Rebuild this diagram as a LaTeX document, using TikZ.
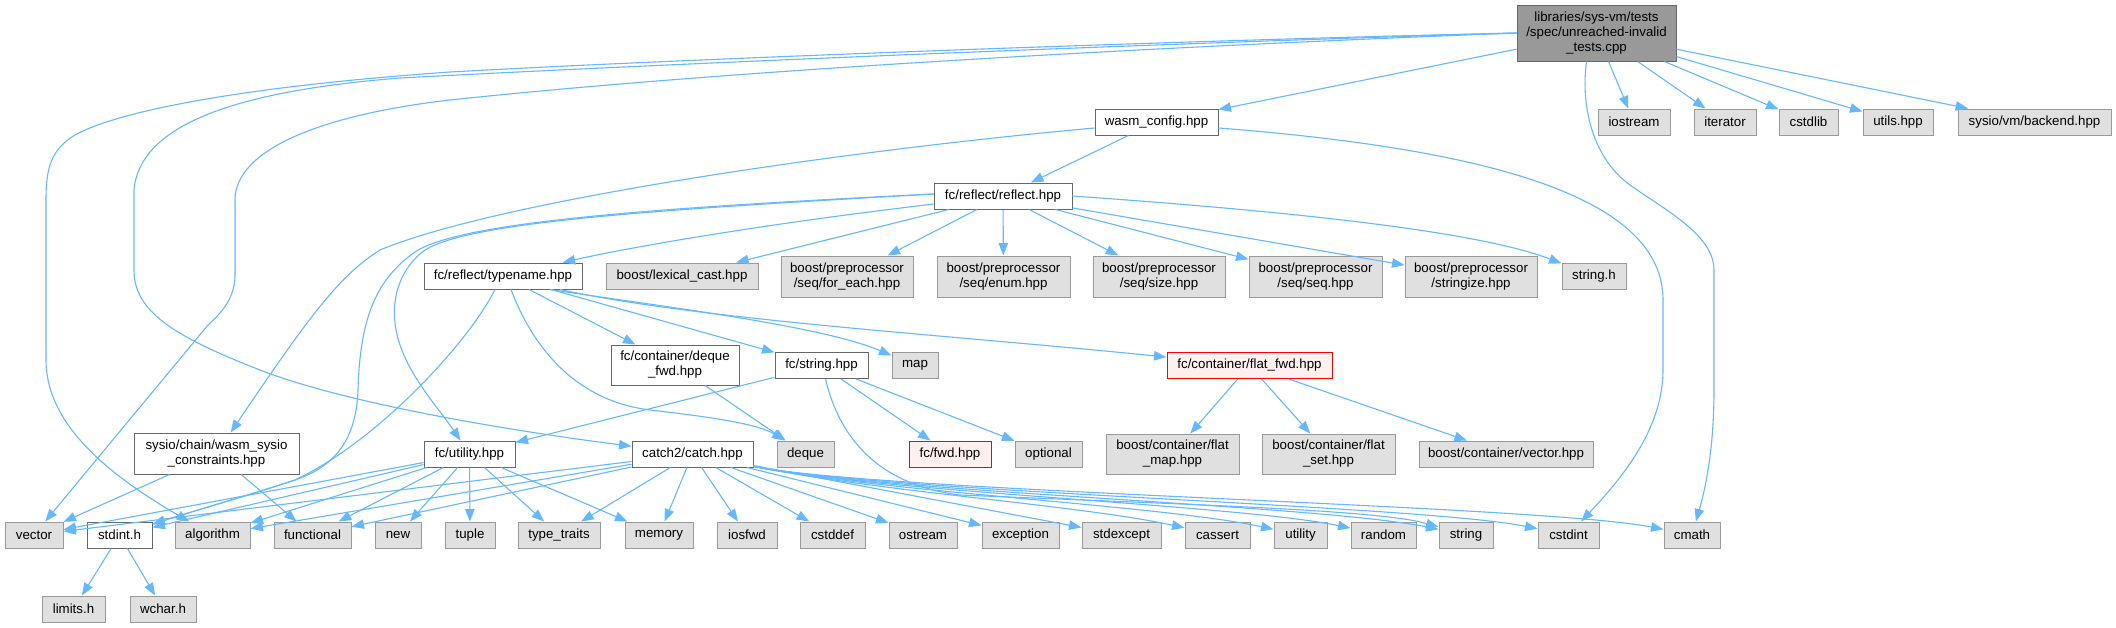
\documentclass[tikz,border=0pt]{standalone}
\usepackage{fontspec}
\setmainfont{Liberation Sans}
\usetikzlibrary{arrows.meta}
\definecolor{edgec}{HTML}{63B8FF}
\definecolor{gfill}{HTML}{E0E0E0}
\definecolor{gborder}{HTML}{999999}
\definecolor{wborder}{HTML}{666666}
\definecolor{mfill}{HTML}{999999}
\definecolor{rfill}{HTML}{FFF0F0}
\definecolor{rborder}{HTML}{FF0000}
\begin{document}
\begin{tikzpicture}[x=1pt,y=-1pt,
  box/.style={draw, line width=1pt, inner sep=0pt, font=\fontsize{13.3}{15}\selectfont, align=center, text=black, minimum height=26pt},
  gbox/.style={box, fill=gfill, draw=gborder},
  wbox/.style={box, fill=white, draw=wborder},
  mbox/.style={box, fill=mfill, draw=wborder},
  rbox/.style={box, fill=rfill, draw=rborder},
  edge/.style={draw=edgec, color=edgec, line width=1.1pt, -{Triangle[length=12.5pt,width=9.5pt]}}
]
\fill[white] (0,0) rectangle (2116,627);
\useasboundingbox (0,0) rectangle (2116,627);

% ---- nodes ----
\node[mbox, minimum width=159pt, minimum height=56pt] (main) at (1596.5,33) {libraries/sys-vm/tests\\/spec/unreached-invalid\\\_tests.cpp};
\node[wbox, minimum width=123pt] (wasm) at (1156.5,122) {wasm\_config.hpp};
\node[gbox, minimum width=72pt] (iostream) at (1634,122) {iostream};
\node[gbox, minimum width=62pt] (iterator) at (1725,122) {iterator};
\node[gbox, minimum width=59pt] (cstdlib) at (1808.5,122) {cstdlib};
\node[gbox, minimum width=70pt] (utilshpp) at (1898,122) {utils.hpp};
\node[gbox, minimum width=153pt] (backend) at (2034.5,122) {sysio/vm/backend.hpp};

\node[wbox, minimum width=138pt] (reflect) at (1003,196) {fc/reflect/reflect.hpp};

\node[wbox, minimum width=158pt] (typename) at (503,276) {fc/reflect/typename.hpp};
\node[gbox, minimum width=152pt] (lexical) at (682,276) {boost/lexical\_cast.hpp};
\node[gbox, minimum width=132pt, minimum height=41pt] (foreach) at (847,276.5) {boost/preprocessor\\/seq/for\_each.hpp};
\node[gbox, minimum width=133pt, minimum height=41pt] (enum) at (1003.5,276.5) {boost/preprocessor\\/seq/enum.hpp};
\node[gbox, minimum width=132pt, minimum height=41pt] (size) at (1159,276.5) {boost/preprocessor\\/seq/size.hpp};
\node[gbox, minimum width=133pt, minimum height=41pt] (seq) at (1315.5,276.5) {boost/preprocessor\\/seq/seq.hpp};
\node[gbox, minimum width=132pt, minimum height=41pt] (stringize) at (1471,276.5) {boost/preprocessor\\/stringize.hpp};
\node[gbox, minimum width=64pt] (stringh) at (1594,276) {string.h};

\node[wbox, minimum width=128pt, minimum height=40pt] (dequefwd) at (675,365) {fc/container/deque\\\_fwd.hpp};
\node[wbox, minimum width=93pt] (stringhpp) at (821.5,365.5) {fc/string.hpp};
\node[gbox, minimum width=46pt] (map) at (915,365.5) {map};
\node[rbox, minimum width=165pt] (flatfwd) at (1249.5,365.5) {fc/container/flat\_fwd.hpp};

\node[wbox, minimum width=165pt, minimum height=41pt] (constraints) at (216.5,453.5) {sysio/chain/wasm\_sysio\\\_constraints.hpp};
\node[wbox, minimum width=91pt] (fcutility) at (469.5,454) {fc/utility.hpp};
\node[wbox, minimum width=121pt] (catch) at (692.5,454) {catch2/catch.hpp};
\node[gbox, minimum width=57pt] (deque) at (805.5,454) {deque};
\node[rbox, minimum width=82pt] (fwd) at (950,454) {fc/fwd.hpp};
\node[gbox, minimum width=67pt] (optional) at (1048.5,454) {optional};
\node[gbox, minimum width=133pt, minimum height=40pt] (flatmap) at (1172.5,454) {boost/container/flat\\\_map.hpp};
\node[gbox, minimum width=133pt, minimum height=40pt] (flatset) at (1328.5,454) {boost/container/flat\\\_set.hpp};
\node[gbox, minimum width=174pt] (vectorhpp) at (1506,454) {boost/container/vector.hpp};

\node[gbox, minimum width=58pt] (vector) at (34,535) {vector};
\node[wbox, minimum width=65pt] (stdint) at (119.5,535) {stdint.h};
\node[gbox, minimum width=75pt] (algorithm) at (212.5,535) {algorithm};
\node[gbox, minimum width=77pt] (functional) at (312.5,535) {functional};
\node[gbox, minimum width=46pt] (new) at (398,535) {new};
\node[gbox, minimum width=50pt] (tuple) at (470,535) {tuple};
\node[gbox, minimum width=82pt] (typetraits) at (559,535) {type\_traits};
\node[gbox, minimum width=68pt] (memory) at (659,535) {memory};
\node[gbox, minimum width=60pt] (iosfwd) at (747,535) {iosfwd};
\node[gbox, minimum width=65pt] (cstddef) at (832.5,535) {cstddef};
\node[gbox, minimum width=68pt] (ostream) at (923,535) {ostream};
\node[gbox, minimum width=77pt] (exception) at (1020.5,535) {exception};
\node[gbox, minimum width=79pt] (stdexcept) at (1121.5,535) {stdexcept};
\node[gbox, minimum width=65pt] (cassert) at (1217.5,535) {cassert};
\node[gbox, minimum width=53pt] (utility) at (1300.5,535) {utility};
\node[gbox, minimum width=65pt] (random) at (1383.5,535) {random};
\node[gbox, minimum width=54pt] (string) at (1466,535) {string};
\node[gbox, minimum width=61pt] (cstdint) at (1568.5,535) {cstdint};
\node[gbox, minimum width=56pt] (cmath) at (1692,535) {cmath};

\node[gbox, minimum width=63pt] (limits) at (73.5,609) {limits.h};
\node[gbox, minimum width=66pt] (wchar) at (163,609) {wchar.h};

% ---- edges: main ----
\draw[edge] (main) -- (wasm);
\draw[edge] (main) -- (iostream);
\draw[edge] (main) -- (iterator);
\draw[edge] (main) -- (cstdlib);
\draw[edge] (main) -- (utilshpp);
\draw[edge] (main) -- (backend);
\draw[edge] ([xshift=-10pt]main.south) .. controls (1580,110) and (1595,160) .. (1630,185)
  .. controls (1665,210) and (1714,235) .. (1714,270) -- (1714,390)
  .. controls (1714,450) and (1705,490) .. (cmath);
\draw[edge] (main.west) .. controls (1200,40) and (700,58) .. (450,72)
  .. controls (250,86) and (120,110) .. (75,135)
  .. controls (50,150) and (46,170) .. (46,200) -- (46,360)
  .. controls (46,420) and (100,470) .. (algorithm);
\draw[edge] (main.west) .. controls (1200,42) and (700,62) .. (400,78)
  .. controls (250,90) and (140,120) .. (134,190) -- (134,270)
  .. controls (134,310) and (170,335) .. (260,370)
  .. controls (350,405) and (520,432) .. (catch);
\draw[edge] (main.west) .. controls (1200,45) and (750,68) .. (450,100)
  .. controls (320,115) and (235,150) .. (235,200) -- (235,275)
  .. controls (235,295) and (225,310) .. (208,325) -- (vector);

% ---- wasm_config ----
\draw[edge] (wasm) -- (reflect);
\draw[edge] ([yshift=-6pt]wasm.west) .. controls (850,150) and (500,200) .. (380,250)
  .. controls (340,275) and (310,315) .. (constraints);
\draw[edge] ([yshift=-6pt]wasm.east) .. controls (1500,150) and (1663,200) .. (1663,300) -- (1663,370)
  .. controls (1663,430) and (1620,480) .. (cstdint);

% ---- reflect ----
\draw[edge] (reflect) .. controls (780,222) and (640,245) .. (typename);
\draw[edge] (reflect) -- (lexical);
\draw[edge] (reflect) -- (foreach);
\draw[edge] (reflect) -- (enum);
\draw[edge] (reflect) -- (size);
\draw[edge] (reflect) -- (seq);
\draw[edge] (reflect) -- (stringize);
\draw[edge] (reflect.east) .. controls (1300,212) and (1480,232) .. (stringh);
\draw[edge] ([yshift=2pt]reflect.west) .. controls (650,208) and (460,222) .. (415,252)
  .. controls (375,280) and (360,320) .. (358,390)
  .. controls (356,445) and (330,468) .. (295,480)
  .. controls (240,498) and (190,512) .. (stdint);
\draw[edge] ([yshift=2pt]reflect.west) .. controls (650,210) and (470,222) .. (425,250)
  .. controls (395,272) and (388,310) .. (400,345)
  .. controls (412,380) and (440,410) .. (fcutility);

% ---- typename ----
\draw[edge] ([xshift=-8pt]typename.south) .. controls (470,340) and (380,440) .. (295,480)
  .. controls (240,498) and (190,512) .. (stdint);
\draw[edge] ([xshift=8pt]typename.south) .. controls (530,340) and (570,400) .. (650,410)
  .. controls (720,418) and (760,425) .. (deque);
\draw[edge] (typename) -- (dequefwd);
\draw[edge] (typename) -- (stringhpp);
\draw[edge] ([xshift=47pt]typename.south) .. controls (650,305) and (820,325) .. (map);
\draw[edge] ([xshift=57pt]typename.south) .. controls (700,320) and (950,335) .. (flatfwd);

% ---- others ----
\draw[edge] (dequefwd) -- (deque);
\draw[edge] (stringhpp) -- (fcutility);
\draw[edge] (stringhpp) -- (fwd);
\draw[edge] (stringhpp) -- (optional);
\draw[edge] ([xshift=4pt]stringhpp.south) .. controls (840,440) and (880,485) .. (960,495)
  .. controls (1200,505) and (1380,510) .. (string);
\draw[edge] (flatfwd) -- (flatmap);
\draw[edge] (flatfwd) -- (flatset);
\draw[edge] (flatfwd) -- (vectorhpp);
\draw[edge] (constraints) -- (vector);
\draw[edge] (constraints) -- (functional);
\draw[edge] (stdint) -- (limits);
\draw[edge] (stdint) -- (wchar);

% ---- fc/utility ----
\draw[edge] (fcutility) -- (vector);
\draw[edge] (fcutility) -- (stdint);
\draw[edge] (fcutility) -- (algorithm);
\draw[edge] (fcutility) -- (functional);
\draw[edge] (fcutility) -- (new);
\draw[edge] (fcutility) -- (tuple);
\draw[edge] (fcutility) -- (typetraits);
\draw[edge] (fcutility) -- (memory);

% ---- catch ----
\draw[edge] (catch) -- (vector);
\draw[edge] (catch) -- (algorithm);
\draw[edge] (catch) -- (functional);
\draw[edge] (catch) -- (typetraits);
\draw[edge] (catch) -- (memory);
\draw[edge] (catch) -- (iosfwd);
\draw[edge] (catch) -- (cstddef);
\draw[edge] (catch) -- (ostream);
\draw[edge] (catch) -- (exception);
\draw[edge] (catch) -- (stdexcept);
\draw[edge] (catch) .. controls (880,492) and (1080,505) .. (cassert);
\draw[edge] (catch) .. controls (880,492) and (1160,505) .. (utility);
\draw[edge] (catch) .. controls (880,492) and (1240,505) .. (random);
\draw[edge] (catch) .. controls (880,492) and (1320,505) .. (string);
\draw[edge] (catch) .. controls (880,492) and (1420,505) .. (cstdint);
\draw[edge] (catch) .. controls (880,492) and (1540,505) .. (cmath);
\end{tikzpicture}
\end{document}
